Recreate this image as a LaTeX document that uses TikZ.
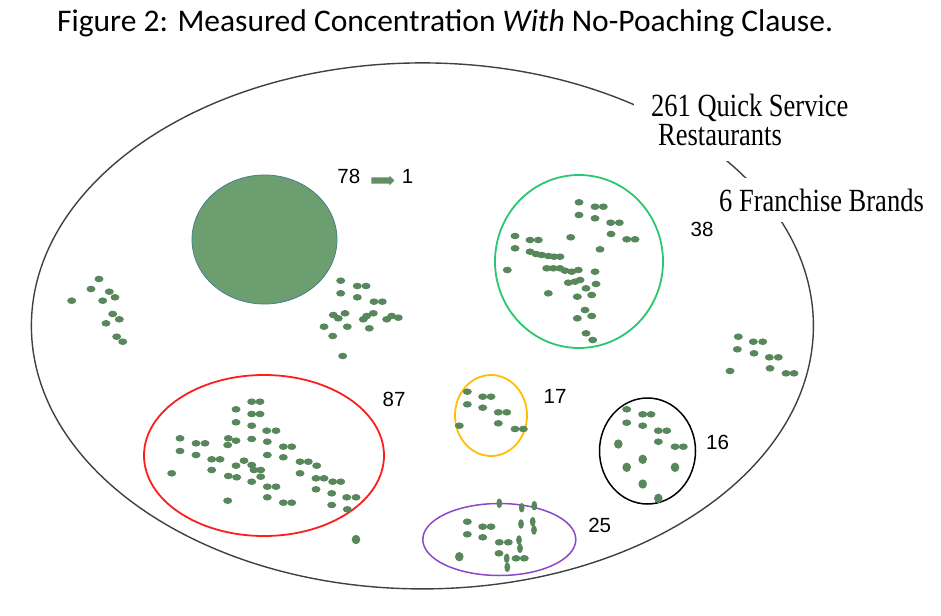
\documentclass[tikz,border=0pt]{standalone}
\usepackage{fontspec}
\setmainfont{Liberation Serif}
\newfontfamily\captionfont{Carlito}
\newfontfamily\countfont{Liberation Sans}
\usetikzlibrary{shapes.geometric,shapes.arrows}

\definecolor{outletgreen}{RGB}{88,135,92}
\definecolor{mergegreen}{RGB}{108,158,112}
\definecolor{mergeedge}{RGB}{74,125,140}
\definecolor{ringgreen}{RGB}{40,200,110}
\definecolor{ringred}{RGB}{250,30,30}
\definecolor{ringyellow}{RGB}{255,190,0}
\definecolor{ringpurple}{RGB}{140,70,200}

\tikzstyle{brandring}=[ellipse,
                       draw,
                       line width=1.8pt,
                       inner sep=0pt]
\tikzstyle{countlabel}=[font={\countfont\fontsize{20.5}{20.5}\selectfont},
                        inner sep=0pt]
\tikzstyle{namebox}=[fill=white,
                     font={\fontsize{26.5}{29}\selectfont\lineskiplimit=-100pt},
                     inner xsep=3pt,
                     inner ysep=11pt]
\tikzstyle{outlet}=[fill=outletgreen]

\begin{document}
\begin{tikzpicture}[x=1pt,y=-1pt]
    \useasboundingbox (0,0) rectangle (941,615);
    \node [anchor=base west, inner sep=0pt,
           font={\captionfont\fontsize{31.5}{34}\selectfont}] (title) at (57,31.7)
        {Figure 2: Measured Concentration \textit{With} No-Poaching Clause.};

    \node [brandring, draw=black!75, line width=1.4pt,
           minimum width=782, minimum height=526] (market) at (422.4,325.9) {};
    \node [namebox, align=left, anchor=north west, inner xsep=17pt, inner ysep=5pt,
           text depth=10pt] (outlets) at (634,89)
        {\scalebox{1}[1.22]{261 Quick Service}\\\hspace*{7pt}\scalebox{1}[1.22]{Restaurants}};
    \node [namebox, anchor=base west] (brands) at (716,211)
        {\scalebox{1}[1.22]{6 Franchise Brands}};

    \node [ellipse, fill=mergegreen, draw=mergeedge, line width=0.8pt,
           minimum width=145, minimum height=129] (merged) at (264.5,239.5) {};
    \node [brandring, draw=ringgreen, minimum width=168, minimum height=173] (ring38) at (579,261.5) {};
    \node [brandring, draw=ringred, minimum width=240, minimum height=161] (ring87) at (264,455.5) {};
    \node [brandring, draw=ringyellow, minimum width=72, minimum height=81] (ring17) at (491,415.5) {};
    \node [brandring, draw=black, line width=1.5pt, minimum width=96, minimum height=106] (ring16) at (647.5,451) {};
    \node [brandring, draw=ringpurple, line width=1.5pt, minimum width=153, minimum height=72] (ring25) at (499.3,539.5) {};

    \foreach \x/\y in {99/279, 91/289, 109.3/291.7, 115/297.3, 71.7/300.7, 102.7/300.7,
                       112.7/314, 119.3/319.3, 106/323.3, 116.7/336.7, 122.7/341.7,
                       340.7/280.7, 357.3/286, 366/286, 340.7/293.3, 357.3/297.3, 374/301.7,
                       382.3/301.7, 333.3/315, 338.3/318.3, 345/313.3, 363.3/319.3, 366.7/316,
                       373.3/313.3, 386.7/319.3, 391.7/316, 398.3/317.7, 324/326.7, 347.3/326.7,
                       369.3/328.3, 332.7/336, 342.7/356,
                       579/202.3, 595/206.7, 603.3/206.7, 579/215, 595/218.3, 610.7/222.7,
                       619.3/222.7, 611/234, 626.7/239.3, 635/239.3, 515/236, 530/240,
                       538.3/240, 570.7/237.3, 515/248.3, 600/249.3, 530/251.7, 536/254,
                       541.7/255, 548.3/256, 554/256.7, 560/256.7, 507.3/270, 546.7/268.3,
                       553.3/268.3, 560/268.3, 565/270.7, 571.7/271.7, 578.3/270, 595/271.7,
                       568.3/282.7, 575/281.7, 580/280, 596/284, 586/288.3, 591.7/295,
                       548.3/293.3, 577.3/296.7, 585/310, 591.7/316, 577.3/318.3, 586/333.3,
                       592.7/340,
                       738.3/336.7, 753.3/341.7, 762.7/341.7, 737.3/349.3, 754/353.3,
                       769.3/357.3, 778.3/357.3, 730/371, 770/368.3, 786/373.3, 794/373.3,
                       251.7/401.7, 260/401.7, 236/409.3, 251.7/414, 260/414, 236/422.3,
                       251.7/425.7, 266.7/430.7, 276/430.7, 180/438.3, 196/443.3, 205/443.3,
                       228.3/438.3, 236/440.7, 227.7/445, 251.7/439, 267.3/441.7, 283.3/446.7,
                       291.7/446.7, 180/451, 196/455, 267.3/455, 283.3/457.3, 211.7/459.3,
                       220/459.3, 244/460.7, 300/461.7, 308.3/461.7, 316.7/465.7, 236/465.7,
                       251.7/465, 254/470, 260.7/470, 211.7/470, 171.7/473.3, 300/473.3,
                       228.3/476, 236.7/477.3, 260.7/476.7, 251.7/481.7, 316/478.3,
                       324/478.3, 332.7/481.7, 340.7/481.7, 267.3/486.7, 276/486.7,
                       316/489.3, 331.7/493.3, 267.3/497.3, 346.7/497.3, 356/497.3,
                       227.7/500.7, 283.3/502.7, 291.7/502.7, 331.7/505, 347.3/509.3,
                       467.3/391.7, 482.7/396.7, 491/396.7, 467.3/404.3, 482.7/407.7,
                       498.3/412.3, 506.7/412.3, 459.3/425.7, 498.3/423.3, 515/429, 523.3/429,
                       626.7/409.3, 642.7/414.3, 651/414.3, 626.7/422.7, 642.7/425.7,
                       658.3/430.7, 666.7/430.7, 658.3/441.7, 675/446.7, 683.3/446.7,
                       467.3/521.7, 482.7/526.7, 491/526.7, 467.3/534.3, 482.7/537.3,
                       499.3/542.3, 508.3/542.3, 499/553.3, 516/558.3, 524.3/558.3}
        \fill [outlet] (\x,\y) ellipse [x radius=4.5, y radius=3.3];
    \foreach \x/\y in {618.3/444, 642.7/459.3, 626.7/467.3, 675/467.3, 642.7/484,
                       658.3/498.3, 459.3/556.7, 356/539.5}
        \fill [outlet] (\x,\y) ellipse [x radius=4.3, y radius=4.7];
    \foreach \x/\y in {499.3/503.3, 521.7/507.7, 534.3/505.7, 521/524, 532.7/521.7,
                       534/530, 519/540, 520/548.3, 506.7/558.3, 507.3/567.3}
        \fill [outlet] (\x,\y) ellipse [x radius=2.9, y radius=4.8];

    \node [countlabel] (before) at (348.8,176.3) {78};
    \node [single arrow, fill=mergegreen!90!black, inner sep=3pt,
           minimum height=23, single arrow head extend=1.8pt] (merge) at (381.3,180.5) {};
    \node [countlabel] (after) at (407.5,176.3) {1};
    \node [countlabel] (count38) at (702,229) {38};
    \node [countlabel] (count87) at (394,399.5) {87};
    \node [countlabel] (count17) at (555,396) {17};
    \node [countlabel] (count16) at (717.5,442) {16};
    \node [countlabel] (count25) at (599.7,525.5) {25};
\end{tikzpicture}
\end{document}
